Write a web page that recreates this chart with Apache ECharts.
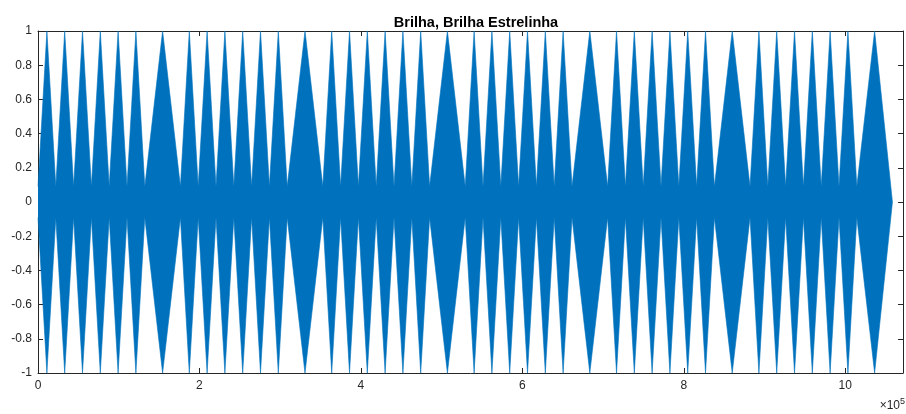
<!DOCTYPE html>
<html>
<head>
<meta charset="utf-8">
<script src="https://cdn.jsdelivr.net/npm/echarts@6/dist/echarts.min.js"></script>
<style>
  html, body { margin: 0; padding: 0; background: #fff; }
  #chart { width: 906px; height: 414px; }
</style>
</head>
<body>
<div id="chart"></div>
<script>
// notas da melodia (Brilha, Brilha Estrelinha)
var notes = [
  "C","C","G","G","A","A","G",
  "F","F","E","E","D","D","C",
  "G","G","F","F","E","E","D",
  "G","G","F","F","E","E","D",
  "C","C","G","G","A","A","G",
  "F","F","E","E","D","D","C"
];
// duração de cada nota em amostras (0.5 s e 1 s a 44100 Hz)
var durations = [
  22050,22050,22050,22050,22050,22050,44100,
  22050,22050,22050,22050,22050,22050,44100,
  22050,22050,22050,22050,22050,22050,44100,
  22050,22050,22050,22050,22050,22050,44100,
  22050,22050,22050,22050,22050,22050,44100,
  22050,22050,22050,22050,22050,22050,44100
];
var peakAmp = 1;      // amplitude no meio de cada nota
var edgeAmp = 0.09;   // amplitude visível nas transições
var endAmp = 0;       // fim do sinal
var xTicks = [0, 2, 4, 6, 8, 10];
var yTicks = [-1, -0.8, -0.6, -0.4, -0.2, 0, 0.2, 0.4, 0.6, 0.8, 1];
var xMax = 10.715e5;

// envelope (triangular) de cada nota
var upper = [];
var lower = [];
var t = 0;
for (var i = 0; i < notes.length; i++) {
  var d = durations[i];
  var e = i === notes.length - 1 ? endAmp : edgeAmp;
  upper.push([t, edgeAmp], [t + d / 2, peakAmp], [t + d, e]);
  lower.push([t, -edgeAmp], [t + d / 2, -peakAmp], [t + d, -e]);
  t += d;
}

var blue = "#0072BD";
var ink = "#262626";
var font = "Liberation Sans, Arial, Helvetica, sans-serif";

var chart = echarts.init(document.getElementById("chart"));

var xBase = {
  type: "value",
  min: 0,
  max: xMax,
  interval: 2e5,
  axisLine: { show: true, onZero: false, lineStyle: { color: ink, width: 1 } },
  axisTick: { show: true, inside: true, length: 5, lineStyle: { color: ink } },
  splitLine: { show: false }
};
var yBase = {
  type: "value",
  min: -1,
  max: 1,
  interval: 0.2,
  axisLine: { show: true, onZero: false, lineStyle: { color: ink, width: 1 } },
  axisTick: { show: true, inside: true, length: 5, lineStyle: { color: ink } },
  splitLine: { show: false }
};

var option = {
  animation: false,
  backgroundColor: "#fff",
  title: {
    text: "Brilha, Brilha Estrelinha",
    left: 471,
    textAlign: "center",
    top: 10,
    textStyle: { color: "#000", fontSize: 14.5, fontWeight: "bold", fontFamily: font }
  },
  grid: { left: 38, right: 2, top: 31, bottom: 41, containLabel: false },
  xAxis: [
    Object.assign({}, xBase, {
      position: "bottom",
      axisLabel: {
        color: ink, fontSize: 12, fontFamily: font, margin: 7,
        formatter: function (v) {
          var k = Math.round(v / 1e5);
          return xTicks.indexOf(k) >= 0 ? String(k) : "";
        }
      }
    }),
    Object.assign({}, xBase, { position: "top", axisLabel: { show: false } })
  ],
  yAxis: [
    Object.assign({}, yBase, {
      position: "left",
      axisLabel: {
        color: ink, fontSize: 12, fontFamily: font, margin: 6,
        formatter: function (v) {
          var r = Math.round(v * 10) / 10;
          return yTicks.indexOf(r) >= 0 ? String(r) : "";
        }
      }
    }),
    Object.assign({}, yBase, { position: "right", axisLabel: { show: false } })
  ],
  graphic: [
    {
      type: "text",
      right: 1,
      top: 397,
      style: {
        text: "{x|×}{b|10}{s|5}",
        rich: {
          x: { fontSize: 12, fontFamily: font, fill: ink, verticalAlign: "bottom" },
          b: { fontSize: 12, fontFamily: font, fill: ink, verticalAlign: "bottom" },
          s: { fontSize: 9, fontFamily: font, fill: ink, verticalAlign: "top", padding: [0, 0, 6, 0] }
        }
      }
    }
  ],
  series: [
    {
      name: "envelope+",
      type: "line",
      data: upper,
      showSymbol: false,
      sampling: false,
      lineStyle: { color: blue, width: 0.6 },
      areaStyle: { color: blue, opacity: 1, origin: 0 },
      z: 2
    },
    {
      name: "envelope-",
      type: "line",
      data: lower,
      showSymbol: false,
      sampling: false,
      lineStyle: { color: blue, width: 0.6 },
      areaStyle: { color: blue, opacity: 1, origin: 0 },
      z: 2
    }
  ]
};

chart.setOption(option);
</script>
</body>
</html>
